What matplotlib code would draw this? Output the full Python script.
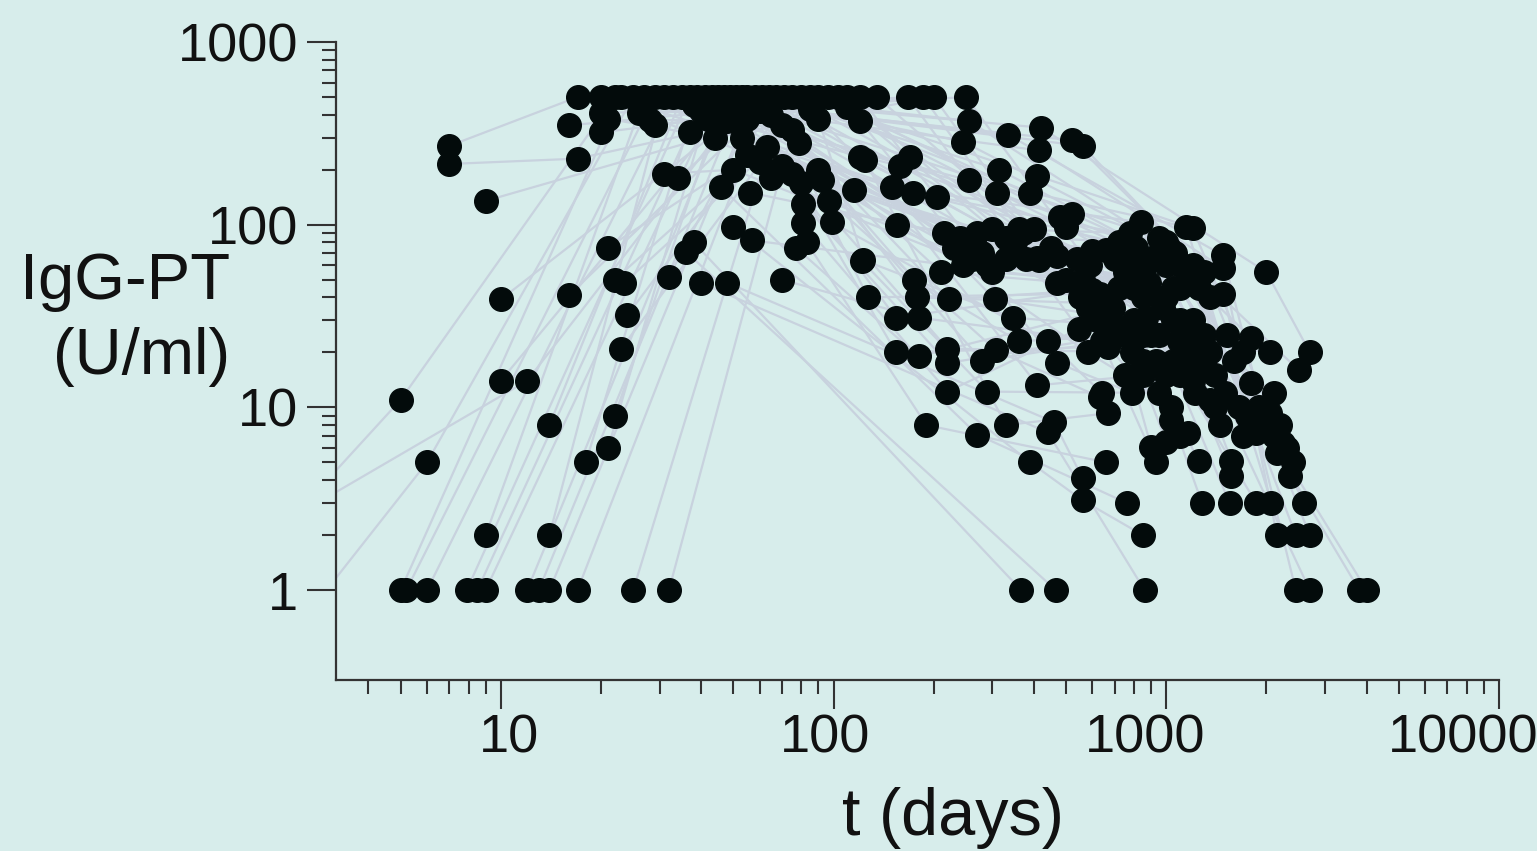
import numpy as np
import matplotlib
matplotlib.use('Agg')
from matplotlib import pyplot as plt
from matplotlib.ticker import FixedLocator, FuncFormatter, NullFormatter
from matplotlib.transforms import ScaledTranslation

# one row per subject: sampling day and IgG-PT level (U/ml)
subject_days = [
    [5, 23, 158, 900, 2150], [5.2, 29, 255, 1150, 2700], [6, 33, 310, 1200, 2450],
    [7.9, 37, 335, 1480, 2000], [8.5, 41, 420, 2000, 2700], [9, 45, 170, 950, 1800],
    [12, 49, 205, 1000, 2350], [13, 53, 245, 1020, 2500], [14, 58, 255, 1060, 2250],
    [17, 64, 315, 1100, 2600], [25, 71, 390, 1150, 2070], [32, 80, 410, 1200, 2050],
    [1.5, 5, 22, 150, 840, 1570], [2.4, 6, 25, 173, 810, 1860], [9, 27, 415, 1480, 2150],
    [14, 31, 520, 1300, 2700], [14, 35, 560, 1480, 2450], [18, 39, 155, 600, 1250],
    [21, 43, 215, 660, 1860], [22, 47, 240, 700, 1280], [10, 51, 270, 720, 1550],
    [1, 12, 55, 300, 780, 1570], [10, 61, 330, 790, 2100], [16, 67, 370, 820, 2200],
    [24, 75, 400, 750, 2300], [23, 85, 500, 850, 2400], [22, 90, 520, 950, 3800],
    [23.5, 96, 480, 1000, 4000], [21, 103, 360, 1300, 2100], [9, 110, 350, 1100, 1900],
    [7, 17, 38, 230, 1250], [7, 17, 120, 260, 1350], [16, 135, 450, 1200, 1750],
    [20, 40, 167, 545, 1600], [20, 42, 186, 470, 1350], [21, 44, 200, 550, 1700],
    [26, 45, 250, 590, 1520], [28, 48, 245, 1160, 1800], [29, 50, 280, 1250, 1650],
    [31, 50, 300, 1050, 1700], [34, 55, 330, 1100, 1450], [32, 53, 380, 1000, 1400],
    [20, 37, 410, 1090, 2050], [55, 415, 980, 1500], [56, 470, 870, 1400],
    [57, 500, 930, 1160], [60, 290, 890, 1300], [60, 540, 1000, 1260],
    [63, 560, 1050, 1220], [65, 210, 800, 1200], [65, 260, 850, 1180],
    [70, 127, 630, 1100], [70, 154, 600, 1050], [70, 180, 640, 930],
    [75, 178, 660, 1030], [75, 154, 670, 1030], [77, 180, 690, 900],
    [79, 222, 720, 1350], [80, 220, 790, 1120], [81, 220, 750, 1000],
    [81, 220, 620, 1100], [83, 190, 660], [85, 305, 800, 950],
    [90, 123, 345, 700], [90, 175, 360, 850], [92, 280, 900],
    [97, 308, 630], [99, 440, 640], [110, 580, 850],
    [115, 580, 750], [120, 470, 790], [120, 410, 850],
    [122, 290, 950], [124, 330, 670], [46, 270, 760],
    [50, 390, 560, 850], [38, 366], [36, 465],
    [40, 440, 860], [48, 460, 560],
]
subject_igg = [
    [1, 500, 210, 64, 5.6], [1, 500, 175, 27, 1], [1, 500, 150, 60, 2],
    [1, 500, 310, 68, 8], [1, 500, 340, 55, 20], [1, 500, 235, 85, 13.6],
    [1, 500, 142, 80, 4.2], [1, 500, 285, 75, 16], [1, 500, 370, 70, 6.4],
    [1, 500, 200, 60, 3], [1, 500, 150, 97, 3], [1, 500, 185, 96, 9.3],
    [1, 11, 500, 160, 103, 5.1], [0.6, 5, 500, 150, 75, 7.2], [2, 500, 255, 58, 2],
    [2, 500, 290, 55, 2], [8, 500, 270, 42, 1], [5, 500, 100, 72, 5.1],
    [6, 500, 90, 73, 3], [9, 500, 85, 65, 3], [14, 500, 90, 80, 3],
    [1, 14, 500, 95, 90, 4.2], [39, 500, 85, 62, 7], [41, 500, 90, 58, 8],
    [32, 500, 95, 55, 6], [21, 500, 97, 55, 5], [50, 500, 115, 70, 1],
    [48, 500, 110, 60, 1], [75, 500, 95, 25, 12], [135, 500, 80, 45, 10],
    [270, 500, 450, 75, 45], [215, 230, 500, 80, 40], [350, 500, 75, 30, 9],
    [410, 420, 500, 27, 18], [320, 380, 500, 48, 20], [380, 300, 500, 40, 20],
    [410, 420, 500, 60, 25], [375, 370, 60, 52, 24], [350, 400, 70, 21.5, 10],
    [190, 200, 55, 45, 7], [180, 380, 65, 30, 8], [52, 300, 65, 40, 10],
    [500, 320, 66, 23, 20], [240, 64, 35, 12], [150, 67, 31, 15],
    [82, 50, 18, 7.2], [420, 60, 48, 18], [220, 65, 15, 16],
    [265, 50, 30, 12], [400, 55, 45, 14], [180, 65, 40, 17],
    [350, 40, 42, 15], [210, 31, 44, 18], [50, 31, 23, 5],
    [330, 40, 37, 10.1], [190, 20, 21.5, 8.5], [75, 19, 35, 6.1],
    [280, 39, 45, 11], [170, 21, 20, 20], [130, 17.5, 25, 6.5],
    [102, 12.2, 30, 7], [80, 8, 5], [430, 39, 30, 25],
    [380, 64, 31, 28], [200, 50, 23, 25], [175, 18, 25],
    [135, 20.5, 11.4], [103, 23, 12], [440, 35, 18],
    [155, 20, 15], [370, 17.5, 12], [235, 13.2, 15],
    [63, 12.2, 12], [226, 8, 9.3], [160, 7.1, 3],
    [97, 5, 3.1, 2], [80, 1], [71, 1],
    [48, 7.3, 1], [48, 8.3, 4.1],
]

x_major = [10, 100, 1000, 10000]
y_major = [1, 10, 100, 1000]

bg = '#d7edeb'
dot_c = '#030b0b'
line_c = '#c8d2de'

plt.rcParams['font.family'] = ['Liberation Sans', 'DejaVu Sans']

fig = plt.figure(figsize=(15.37, 8.51), dpi=100, facecolor=bg)
ax = fig.add_axes([0.2186, 0.2009, 0.7567, 0.7497], facecolor=bg)

for d, v in zip(subject_days, subject_igg):
    assert len(d) == len(v)
    ax.plot(d, v, color=line_c, lw=1.6, zorder=1)
for d, v in zip(subject_days, subject_igg):
    ax.plot(d, v, 'o', ls='none', ms=17, color=dot_c, mec=dot_c, zorder=3)

ax.set_xscale('log')
ax.set_yscale('log')
ax.set_xlim(3.196, 10000)
ax.set_ylim(0.3217, 1000)

ax.xaxis.set_major_locator(FixedLocator(x_major))
ax.yaxis.set_major_locator(FixedLocator(y_major))
ax.xaxis.set_minor_locator(FixedLocator([k * 10.0 ** e for e in range(0, 4) for k in range(2, 10)]))
ax.yaxis.set_minor_locator(FixedLocator([k * 10.0 ** e for e in range(0, 3) for k in range(2, 10)]))
fmt = FuncFormatter(lambda v, _: f'{v:g}')
ax.xaxis.set_major_formatter(fmt)
ax.yaxis.set_major_formatter(fmt)
ax.xaxis.set_minor_formatter(NullFormatter())
ax.yaxis.set_minor_formatter(NullFormatter())

for s in ['top', 'right']:
    ax.spines[s].set_visible(False)
for s in ['left', 'bottom']:
    ax.spines[s].set_linewidth(1.6)
    ax.spines[s].set_color('#333333')

ax.tick_params(which='major', length=21, width=1.5, color='#333333',
               labelsize=39, labelcolor='#111111')
ax.tick_params(which='minor', length=10, width=1.5, color='#333333')
ax.tick_params(axis='y', which='major', pad=6)
ax.tick_params(axis='x', which='major', pad=3)

# the x labels sit slightly off their ticks in the original
for lab, dx in zip(ax.get_xticklabels(), [8, -8, -21, -36]):
    lab.set_transform(lab.get_transform() + ScaledTranslation(dx / 100, 0, fig.dpi_scale_trans))

fig.text(0.1496, 0.624, 'IgG-PT\n(U/ml)', ha='right', va='center',
         multialignment='right', fontsize=47, color='#111111', linespacing=1.32)
fig.text(0.620, 0.0188, 't (days)', ha='center', va='baseline',
         fontsize=48, color='#111111')

plt.savefig('out.png', dpi=100, facecolor=bg)
